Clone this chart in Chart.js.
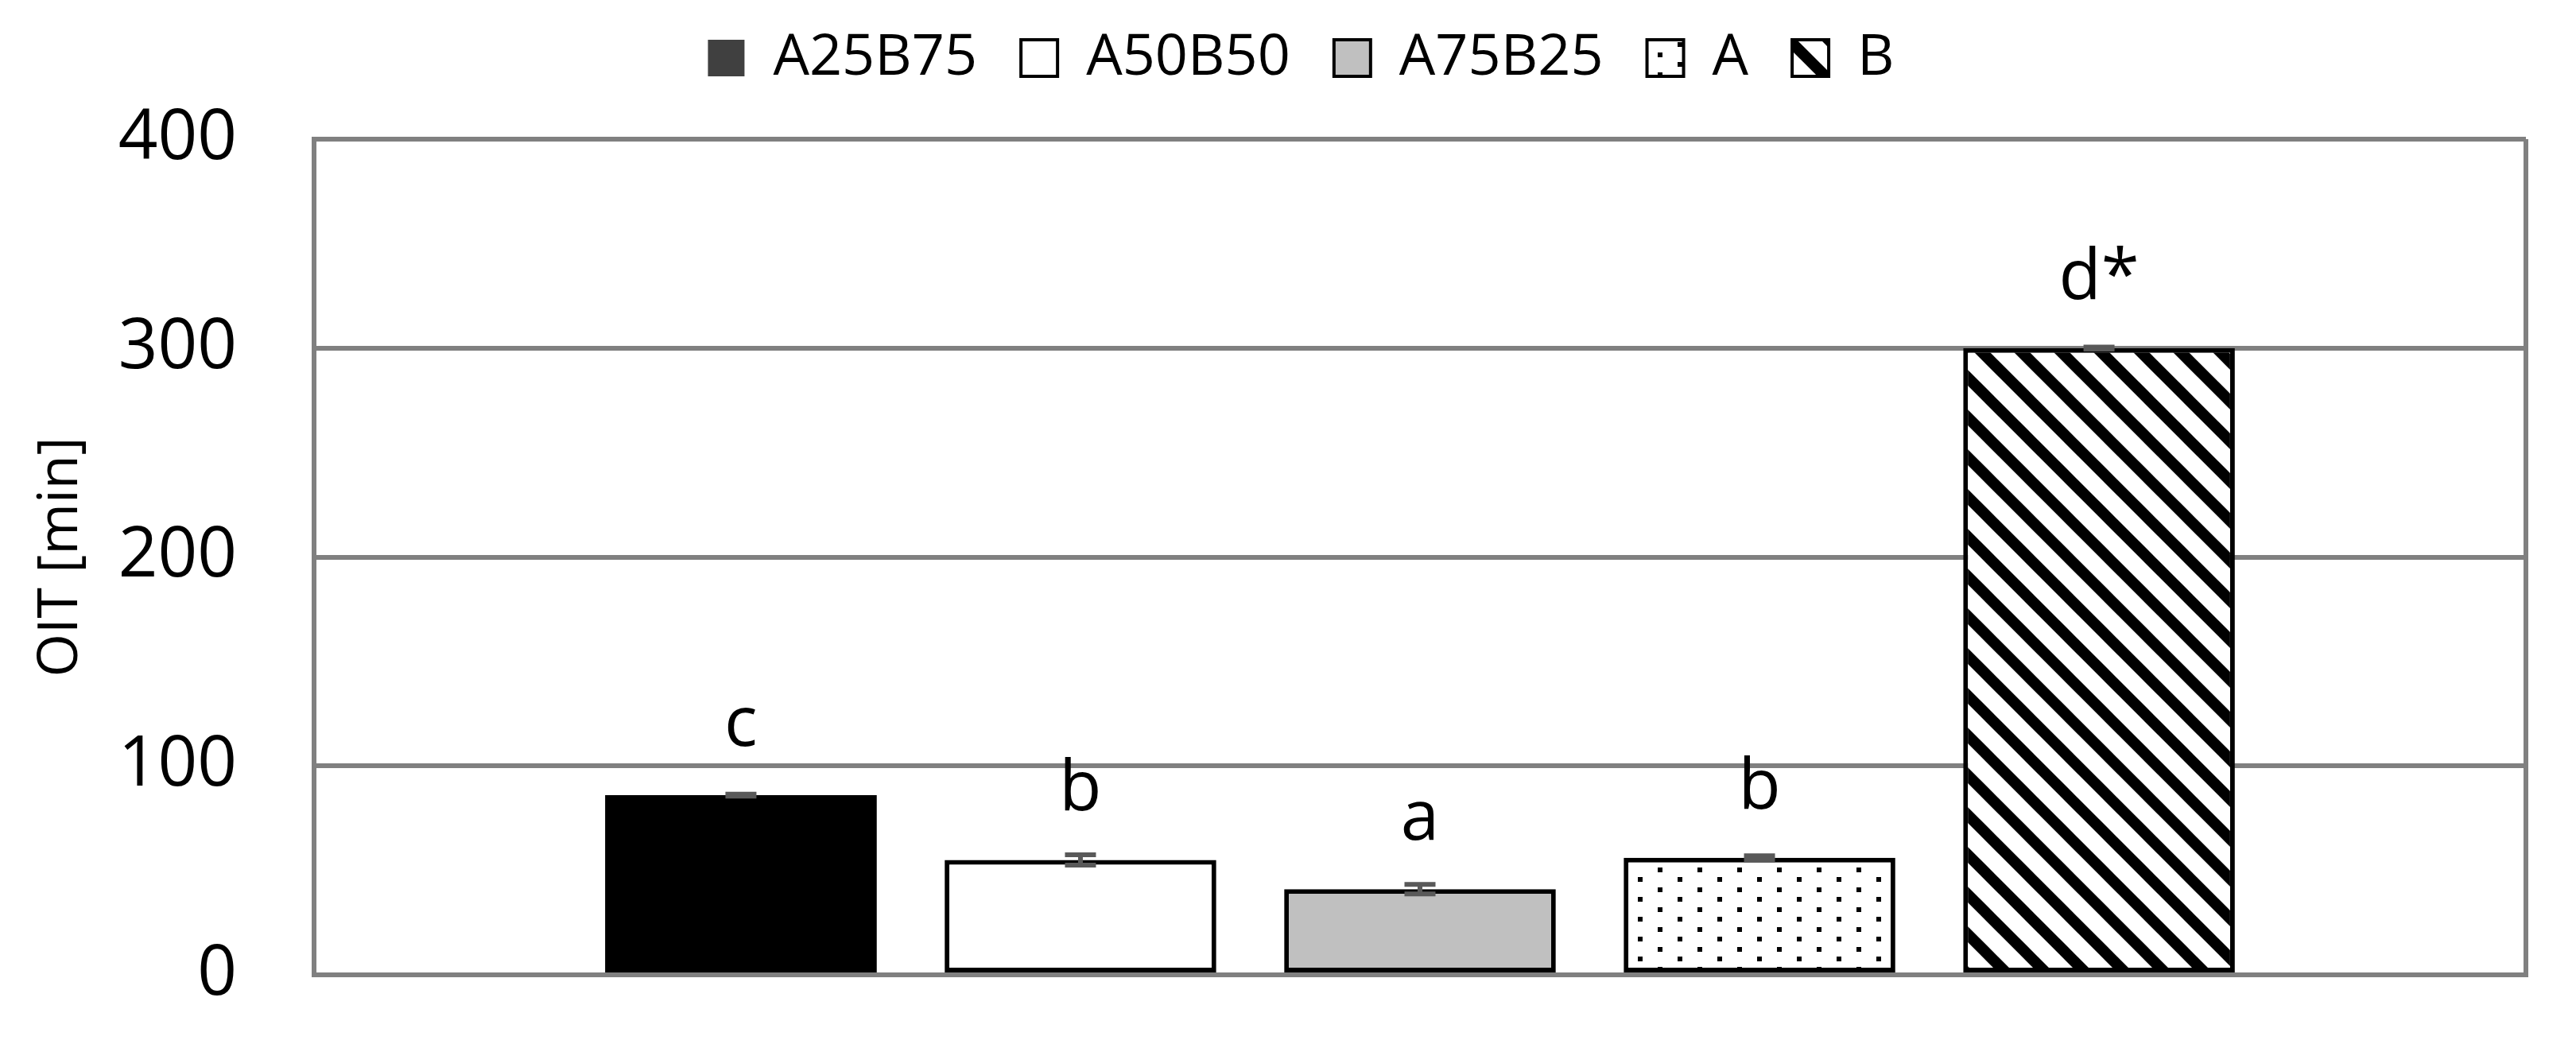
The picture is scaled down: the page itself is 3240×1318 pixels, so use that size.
<!DOCTYPE html>
<html>
<head>
<meta charset="utf-8">
<script src="https://cdn.jsdelivr.net/npm/chart.js@4.4.1/dist/chart.umd.min.js"></script>
<style>
body{margin:0;background:#fff}
</style>
</head>
<body>
<canvas id="oitChart" width="3240" height="1318"></canvas>
<script>

// chart data
let categories = [""]
let seriesNames = ["A25B75","A50B50","A75B25","A","B"]
let oitValues = [86, 55, 41, 56, 300]
let oitErrors = [0.5, 2.5, 2.3, 1, 0.5]
let letters = ["c","b","a","b","d*"]
let yTicks = [0,100,200,300,400]

let canvas = document.getElementById("oitChart")
let mainCtx = canvas.getContext("2d")

function dotPattern(){
let c=document.createElement("canvas")
c.width=50
c.height=25
let g=c.getContext("2d")
g.fillStyle="#fff"
g.fillRect(0,0,50,25)
g.fillStyle="#000"
g.fillRect(10,3,6,6)
g.fillRect(35,16,6,6)
return mainCtx.createPattern(c,"repeat")
}

function hatchPattern(){
let c=document.createElement("canvas")
c.width=50
c.height=50
let g=c.getContext("2d")
g.fillStyle="#fff"
g.fillRect(0,0,50,50)
g.strokeStyle="#000"
g.lineWidth=14
for(let k=-1;k<=1;k++){
g.beginPath()
g.moveTo(k*50-10,-10)
g.lineTo(k*50+60,60)
g.stroke()
}
return mainCtx.createPattern(c,"repeat")
}

let fills = ["#000000","#ffffff","#c0c0c0",dotPattern(),hatchPattern()]

// move legend to where the original sits
const legendShift = {
id:"legendShift",
afterLayout(chart){
let l=chart.legend
l.top-=56
l.bottom-=56
l.left+=27
l.right+=27
}
}

// error bars and significance letters
const barMarks = {
id:"barMarks",
afterDatasetsDraw(chart){
let ctx=chart.ctx
let y=chart.scales.y
chart.data.datasets.forEach((d,i)=>{
let bar=chart.getDatasetMeta(i).data[0]
let top=y.getPixelForValue(oitValues[i]+oitErrors[i])
let bot=y.getPixelForValue(oitValues[i]-oitErrors[i])
ctx.save()
ctx.strokeStyle="#595959"
ctx.lineWidth=6
ctx.beginPath()
ctx.moveTo(bar.x,top)
ctx.lineTo(bar.x,bot)
ctx.moveTo(bar.x-19.5,top)
ctx.lineTo(bar.x+19.5,top)
ctx.moveTo(bar.x-19.5,bot)
ctx.lineTo(bar.x+19.5,bot)
ctx.stroke()
ctx.fillStyle="#000"
ctx.font="87px 'Open Sans'"
ctx.textAlign="center"
ctx.textBaseline="alphabetic"
ctx.fillText(letters[i],bar.x,y.getPixelForValue(oitValues[i])-62)
ctx.restore()
})
}
}

new Chart(canvas,{

type:"bar",

data:{
labels:categories,
datasets:seriesNames.map((n,i)=>({
label:n,
data:[oitValues[i]],
backgroundColor:fills[i],
borderColor:"#000",
borderWidth:i==0?0:6,
borderSkipped:false,
categoryPercentage:0.7675,
barPercentage:0.8
}))
},

options:{
responsive:false,
devicePixelRatio:1,
animation:false,
layout:{padding:{top:38,left:42,right:63,bottom:92}},
plugins:{
tooltip:{enabled:false},
legend:{
position:"top",
labels:{
color:"#000",
font:{family:"Open Sans",size:72},
boxWidth:46,
boxHeight:46,
padding:55,
generateLabels(chart){
let items=Chart.defaults.plugins.legend.labels.generateLabels(chart)
items.forEach((it,i)=>{
it.lineWidth=i==0?0:4
it.strokeStyle="#000"
if(i==0) it.fillStyle="#404040"
})
return items
}
}
}
},
scales:{
x:{
grid:{color:"#808080",lineWidth:6,drawTicks:false},
border:{color:"#808080",width:6},
ticks:{display:false}
},
y:{
min:0,
max:400,
afterBuildTicks(s){s.ticks=yTicks.map(v=>({value:v}))},
afterFit(s){s.width=353},
grid:{color:"#808080",lineWidth:6,drawTicks:true,tickLength:90,tickColor:"rgba(0,0,0,0)"},
border:{color:"#808080",width:6},
ticks:{padding:7,color:"#000",font:{family:"Open Sans",size:87}},
title:{display:true,text:"OIT [min]",color:"#000",font:{family:"Open Sans",size:70,lineHeight:1},padding:0}
}
}
},

plugins:[legendShift,barMarks]

})

</script>
</body>
</html>
